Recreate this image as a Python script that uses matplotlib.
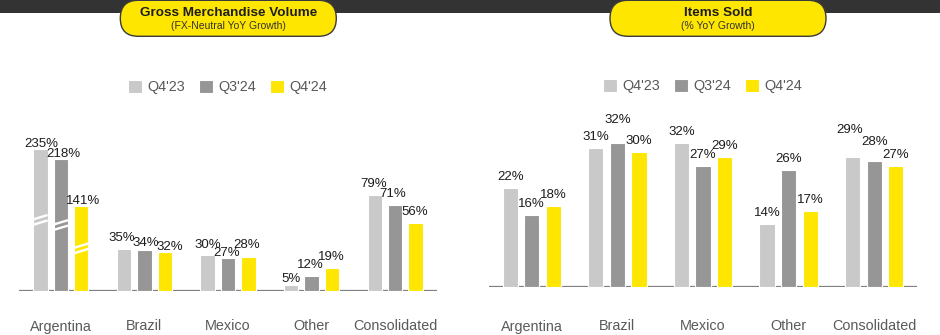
import matplotlib
matplotlib.use("Agg")
import matplotlib.pyplot as plt
from matplotlib.patches import FancyBboxPatch, Rectangle
from matplotlib.transforms import blended_transform_factory

plt.rcParams['font.family'] = ['Liberation Sans', 'DejaVu Sans']

categories = ['Argentina', 'Brazil', 'Mexico', 'Other', 'Consolidated']
series = ["Q4'23", "Q3'24", "Q4'24"]

gmv_q4_23 = [235, 35, 30, 5, 79]
gmv_q3_24 = [218, 34, 27, 12, 71]
gmv_q4_24 = [141, 32, 28, 19, 56]

items_q4_23 = [22, 31, 32, 14, 29]
items_q3_24 = [16, 32, 27, 26, 28]
items_q4_24 = [18, 30, 29, 17, 27]

# layout / styling
colors = ['#c9c9c9', '#969696', '#ffe600']
gmv_squeeze = [0.5, 1, 1, 1, 1]   # Argentina bars drawn broken at half scale
gmv_label_dy = [[-6, -6, -6], [0, -4.5, -6], [-1, -6, 1], [-5, 0, 0], [0, 0, 0]]
gmv_label_dx = [[1, 3, 1.5], [-2, 1, 5], [0, -1.5, -2], [0, -1, -1], [-1, -2.5, -1]]
items_label_dy = [[0, 0, 0], [0, 12, 0], [0, 0, 0], [0, 0, 0], [16, 8, 0]]
items_label_dx = [[0, 0, 0], [0, 0, 0], [0, 0, 0], [0, 0, 0], [-3, 0, 0]]

W, H = 940, 335
fig = plt.figure(figsize=(W / 100, H / 100), dpi=100)

# pixel-coordinate overlay for the header, pills and labels
ov = fig.add_axes([0, 0, 1, 1])
ov.set_xlim(0, W)
ov.set_ylim(H, 0)
ov.axis('off')
ov.add_patch(Rectangle((0, 0), W, 12.7, color='#333333', lw=0))


def draw_panel(left, right, base_y, top_y, px_per_unit, data, squeeze,
               dys, dxs, title, subtitle, title_x, legend_x, legend_y, width):
    ax = fig.add_axes([left / W, (H - base_y) / H, (right - left) / W, (base_y - top_y) / H])
    ax.set_xlim(-0.5, 4.5)
    ax.set_ylim(0, (base_y - top_y) / px_per_unit)
    ax.axis('off')
    ax.axhline(0, color='#7f7f7f', lw=1.6, zorder=1)
    step = width * 1.42
    handles = []
    for j, vals in enumerate(data):
        xs = [i + (j - 1) * step for i in range(len(categories))]
        hs = [v * s for v, s in zip(vals, squeeze)]
        b = ax.bar(xs, hs, width=width, color=colors[j], edgecolor='white',
                   linewidth=0.8, zorder=2, label=series[j])
        handles.append(b)
        for i, (x, h, v) in enumerate(zip(xs, hs, vals)):
            ax.annotate(f'{v}%', (x, h), xytext=(dxs[i][j] * 0.72, (8 + dys[i][j]) * 0.72),
                        textcoords='offset points', ha='center', va='baseline',
                        fontsize=9.5, color='#1c1c1c', zorder=4)
            if squeeze[i] != 1:
                # broken-bar marks
                y0 = h / 2
                dy = 2.2 / px_per_unit
                for off in (-2.7 / px_per_unit, 2.7 / px_per_unit):
                    ax.plot([x - width / 2, x + width / 2], [y0 + off - dy, y0 + off + dy],
                            color='white', lw=1.7, zorder=3, solid_capstyle='butt')
    tr = blended_transform_factory(ax.transData, ov.transData)
    for i, c in enumerate(categories):
        ax.text(i, 330.5, c, transform=tr, ha='center', va='baseline',
                fontsize=10.4, color='#5a5a5a')
    # title pill
    ov.add_patch(FancyBboxPatch((title_x - 108, 0.3), 216, 36, boxstyle='round,pad=0,rounding_size=18',
                                facecolor='#ffe600', edgecolor='#3a3a3a', lw=1.0, zorder=3))
    ov.text(title_x, 16.2, title, ha='center', va='baseline', fontsize=9.7,
            fontweight='bold', color='#1e1e1e', zorder=4)
    ov.text(title_x, 28.8, subtitle, ha='center', va='baseline', fontsize=7.5,
            color='#333333', zorder=4)
    ax.legend(handles=handles, loc='center', bbox_to_anchor=(legend_x, legend_y),
              bbox_transform=ov.transData, ncol=3, frameon=False, fontsize=10.4,
              handlelength=0.97, handleheight=0.97, handletextpad=0.38,
              columnspacing=0.95, borderpad=0, labelcolor='#595959')
    return ax


draw_panel(19, 437, 291, 100, 1.21,
           [gmv_q4_23, gmv_q3_24, gmv_q4_24], gmv_squeeze,
           gmv_label_dy, gmv_label_dx,
           'Gross Merchandise Volume', '(FX-Neutral YoY Growth)',
           228.3, 227.5, 87.3, 0.172)

draw_panel(489, 917, 286.5, 100, 4.47,
           [items_q4_23, items_q3_24, items_q4_24], [1] * 5,
           items_label_dy, items_label_dx,
           'Items Sold', '(% YoY Growth)',
           718, 702.8, 86.3, 0.178)

fig.savefig('out.png', dpi=100)
